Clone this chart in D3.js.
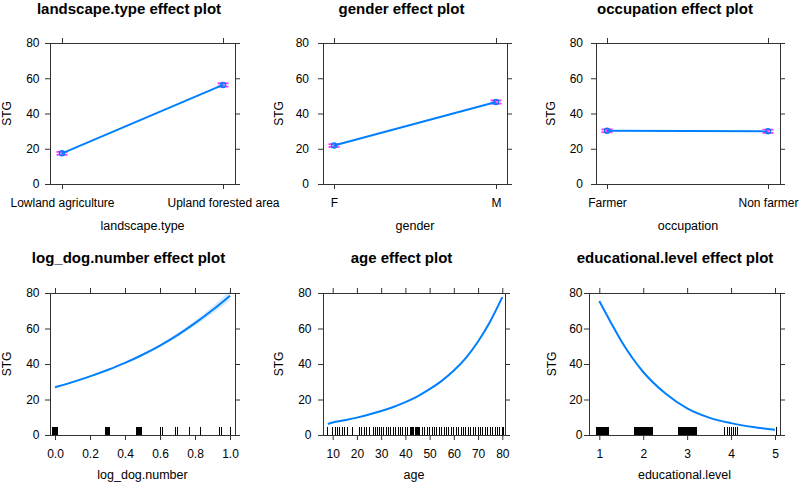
<!DOCTYPE html>
<html><head><meta charset="utf-8">
<script src="https://cdn.jsdelivr.net/npm/d3@7"></script>
<style>body{margin:0;background:#fff} svg{display:block} text{font-family:"Liberation Sans",Arial,sans-serif}</style>
</head><body><svg id="c" width="800" height="484"></svg>
<script>
// ---------- data ----------
const yTicks = [0, 20, 40, 60, 80];

const landscapeCats  = ["Lowland agriculture", "Upland forested area"];
const landscapeFit   = [17.4, 56.2];
const landscapeLower = [16.6, 55.3];
const landscapeUpper = [18.2, 57.1];

const genderCats  = ["F", "M"];
const genderFit   = [21.8, 46.5];
const genderLower = [21.0, 45.6];
const genderUpper = [22.6, 47.4];

const occupationCats  = ["Farmer", "Non farmer"];
const occupationFit   = [30.2, 29.9];
const occupationLower = [29.4, 29.0];
const occupationUpper = [31.0, 30.8];

const dogTicks = [0, 0.2, 0.4, 0.6, 0.8, 1.0];
const dogX     = [0, 0.1, 0.2, 0.3, 0.4, 0.5, 0.6, 0.7, 0.8, 0.9, 1.0];
const dogFit   = [26.9, 29.8, 33.0, 36.6, 40.6, 45.2, 50.4, 56.3, 63.0, 70.4, 78.5];
const dogLower = [26.2, 29.3, 32.6, 36.3, 40.3, 44.8, 49.7, 55.2, 61.5, 68.4, 75.8];
const dogUpper = [27.6, 30.3, 33.4, 36.9, 40.9, 45.6, 51.1, 57.4, 64.5, 72.4, 81.2];
const dogRug = [-0.014, -0.011, -0.008, -0.005, -0.002, 0.001, 0.004, 0.007, 0.010, 0.013,
  0.286, 0.289, 0.292, 0.295, 0.298, 0.301, 0.304, 0.307, 0.310, 0.313,
  0.463, 0.466, 0.469, 0.472, 0.475, 0.478, 0.481, 0.484, 0.487, 0.490, 0.494,
  0.600, 0.613, 0.686, 0.701, 0.771, 0.829, 0.939, 0.949, 1.0];

const ageTicks = [10, 20, 30, 40, 50, 60, 70, 80];
const ageX   = [8, 10, 15, 20, 25, 30, 35, 40, 45, 50, 55, 60, 65, 70, 75, 80];
const ageFit = [6.2, 7.0, 8.3, 9.8, 11.5, 13.5, 15.8, 18.5, 21.8, 25.8, 30.5, 36.3, 43.5, 52.7, 64.0, 77.7];
const ageRug = [8, 10, 11, 12, 13, 14, 15, 16, 18, 21, 22, 23, 24, 25,
  26.8, 27.6, 28.5, 29.3, 30.2, 31, 32, 33, 34, 35, 36, 37, 38, 39, 40, 41, 42, 42.4, 43, 43.3, 44, 44.4, 45, 45.5,
  46, 47, 48, 49, 50, 51, 52, 53, 54, 55, 56, 57, 58, 59, 60, 61, 62, 63, 64, 65, 66, 67, 68, 69, 70,
  71, 72, 73, 74, 75, 76, 77, 78, 79, 80, 80.6];

const eduTicks = [1, 2, 3, 4, 5];
const eduX   = [1, 1.25, 1.5, 1.75, 2, 2.5, 3, 3.5, 4, 4.5, 5];
const eduFit = [75.5, 64.0, 53.0, 43.5, 35.5, 23.5, 15.0, 9.8, 6.7, 4.5, 2.9];
const eduRug = [0.925, 0.945, 0.965, 0.985, 1.005, 1.025, 1.045, 1.065, 1.085, 1.105, 1.125, 1.145, 1.165, 1.185, 1.205, 1.22,
  1.81, 1.83, 1.85, 1.87, 1.89, 1.91, 1.93, 1.95, 1.97, 1.99, 2.01, 2.03, 2.05, 2.07, 2.09, 2.11, 2.13, 2.15, 2.17, 2.19, 2.21, 2.22,
  2.81, 2.83, 2.85, 2.87, 2.89, 2.91, 2.93, 2.95, 2.97, 2.99, 3.01, 3.03, 3.05, 3.07, 3.09, 3.11, 3.13, 3.15, 3.17, 3.19, 3.21, 3.22,
  3.86, 3.91, 3.975, 4.0, 4.05, 4.1, 4.14, 5.04];

// ---------- style ----------
const svg = d3.select("#c");
const blue = "#0080ff", pink = "#ff33ff", axisCol = "#333";

function frame(p, x) {
  const g = svg.append("g");
  const y = d3.scaleLinear().domain([0, 80]).range([p.y1, p.y0]);
  g.append("rect").attr("x", p.x0 + 0.5).attr("y", p.y0 + 0.5)
    .attr("width", p.x1 - p.x0).attr("height", p.y1 - p.y0)
    .attr("fill", "none").attr("stroke", axisCol);
  const style = a => {
    a.select(".domain").remove();
    a.attr("color", axisCol).attr("font-size", 12).attr("font-family", null);
    a.selectAll("text").attr("fill", "#000");
  };
  g.append("g").attr("transform", `translate(${p.x0},0)`)
    .call(d3.axisLeft(y).tickValues(yTicks).tickSize(5).tickPadding(p.yPad)).call(style);
  g.append("g").attr("transform", `translate(${p.x1},0)`)
    .call(d3.axisRight(y).tickValues(yTicks).tickSize(5).tickFormat("")).call(style);
  const xb = d3.axisBottom(x).tickSize(5).tickPadding(9.5);
  const xt = d3.axisTop(x).tickSize(5).tickFormat("");
  if (p.xTicks) { xb.tickValues(p.xTicks); xt.tickValues(p.xTicks); }
  if (p.xFmt) xb.tickFormat(p.xFmt);
  g.append("g").attr("transform", `translate(0,${p.y1})`).call(xb).call(style);
  g.append("g").attr("transform", `translate(0,${p.y0})`).call(xt).call(style);
  g.append("text").attr("x", p.titleX).attr("y", p.titleY).attr("text-anchor", "middle")
    .attr("font-size", 15).attr("font-weight", "bold").attr("fill", "#000").text(p.title);
  g.append("text").attr("x", (p.x0 + p.x1) / 2).attr("y", p.xlabY).attr("text-anchor", "middle")
    .attr("font-size", 12.5).attr("fill", "#000").text(p.xlab);
  g.append("text").attr("transform", `translate(${p.ylabX},${(p.y0 + p.y1) / 2}) rotate(-90)`)
    .attr("text-anchor", "middle").attr("dominant-baseline", "central")
    .attr("font-size", 12).attr("fill", "#000").text("STG");
  return { g, y };
}

function factorPanel(p, cats, fit, lo, hi) {
  const x = d3.scalePoint().domain(cats).range(p.xr);
  const { g, y } = frame(p, x);
  const pts = cats.map((c, i) => ({ c, f: fit[i], l: lo[i], h: hi[i] }));
  pts.forEach(d => {
    const cx = x(d.c);
    g.append("line").attr("x1", cx).attr("x2", cx).attr("y1", y(d.l)).attr("y2", y(d.h))
      .attr("stroke", pink).attr("stroke-width", 1.5);
    [d.l, d.h].forEach(v => g.append("line").attr("x1", cx - 5.5).attr("x2", cx + 5.5)
      .attr("y1", y(v)).attr("y2", y(v)).attr("stroke", pink).attr("stroke-width", 1.8));
  });
  g.append("path").datum(pts).attr("fill", "none").attr("stroke", blue).attr("stroke-width", 2)
    .attr("d", d3.line().x(d => x(d.c)).y(d => y(d.f)));
  g.selectAll("circle.pt").data(pts).join("circle").attr("class", "pt")
    .attr("cx", d => x(d.c)).attr("cy", d => y(d.f)).attr("r", 2.5)
    .attr("fill", "none").attr("stroke", blue).attr("stroke-width", 1.5);
}

function contPanel(p, xs, fit, lo, hi, rug) {
  const x = d3.scaleLinear().domain(p.xd).range(p.xr);
  const { g, y } = frame(p, x);
  const pts = xs.map((v, i) => ({ x: v, f: fit[i], l: lo ? lo[i] : null, h: hi ? hi[i] : null }));
  if (lo) {
    g.append("path").datum(pts).attr("fill", blue).attr("fill-opacity", 0.16)
      .attr("d", d3.area().x(d => x(d.x)).y0(d => y(d.l)).y1(d => y(d.h)).curve(d3.curveMonotoneX));
  }
  g.selectAll("line.rug").data(rug).join("line").attr("class", "rug")
    .attr("x1", d => x(d)).attr("x2", d => x(d)).attr("y1", p.y1).attr("y2", p.y1 - 8)
    .attr("stroke", "#000").attr("stroke-width", 1).attr("shape-rendering", "crispEdges");
  g.append("path").datum(pts).attr("fill", "none").attr("stroke", blue).attr("stroke-width", 2)
    .attr("d", d3.line().x(d => x(d.x)).y(d => y(d.f)).curve(d3.curveMonotoneX));
}

const rowTop = { y0: 43, y1: 184, titleY: 14, xlabY: 229.5 };
const rowBot = { y0: 293, y1: 435, titleY: 263, xlabY: 479 };

factorPanel(Object.assign({}, rowTop, { x0: 50, x1: 235, xr: [62, 223], yPad: 5.5, ylabX: 7, titleX: 129,
  title: "landscape.type effect plot", xlab: "landscape.type" }),
  landscapeCats, landscapeFit, landscapeLower, landscapeUpper);
factorPanel(Object.assign({}, rowTop, { x0: 323, x1: 507, xr: [334, 496], yPad: 9, ylabX: 279, titleX: 401.5,
  title: "gender effect plot", xlab: "gender" }),
  genderCats, genderFit, genderLower, genderUpper);
factorPanel(Object.assign({}, rowTop, { x0: 596, x1: 780, xr: [607, 768], yPad: 8, ylabX: 551, titleX: 675,
  title: "occupation effect plot", xlab: "occupation" }),
  occupationCats, occupationFit, occupationLower, occupationUpper);

contPanel(Object.assign({}, rowBot, { x0: 50, x1: 235, xd: [0, 1], xr: [55, 230], xTicks: dogTicks, xFmt: d3.format(".1f"),
  yPad: 5.5, ylabX: 7, titleX: 128.5, title: "log_dog.number effect plot", xlab: "log_dog.number" }),
  dogX, dogFit, dogLower, dogUpper, dogRug);
contPanel(Object.assign({}, rowBot, { x0: 323, x1: 505, xd: [10, 80], xr: [332.7, 502.3], xTicks: ageTicks, xFmt: d3.format("d"),
  yPad: 6.5, ylabX: 279, titleX: 401.5, title: "age effect plot", xlab: "age" }),
  ageX, ageFit, null, null, ageRug);
contPanel(Object.assign({}, rowBot, { x0: 589, x1: 780, xd: [1, 5], xr: [599.3, 775], xTicks: eduTicks, xFmt: d3.format("d"),
  yPad: 1.5, ylabX: 551.5, titleX: 675, title: "educational.level effect plot", xlab: "educational.level" }),
  eduX, eduFit, null, null, eduRug);
</script></body></html>
